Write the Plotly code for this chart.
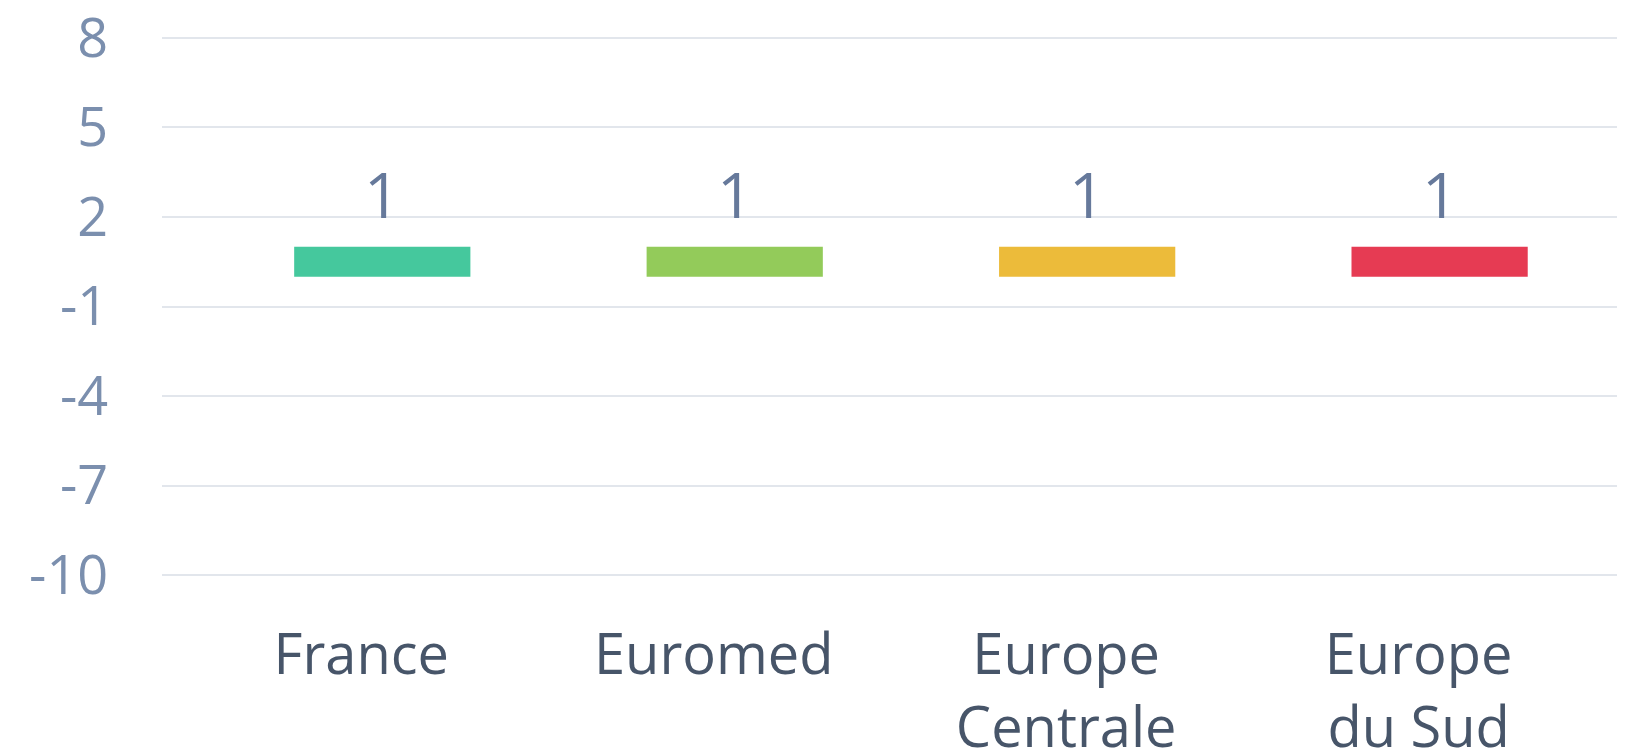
import plotly.graph_objects as go

categories = ["France", "Euromed", "Europe<br>Centrale", "Europe<br>du Sud"]
values = [1, 1, 1, 1]
bar_colors = ["#45C89D", "#93CB5A", "#ECBB3A", "#E63B53"]
y_ticks = [8, 5, 2, -1, -4, -7, -10]

xs = list(range(len(categories)))
FONT = "Open Sans, sans-serif"

fig = go.Figure()
fig.add_trace(go.Bar(
    x=xs, y=values, marker=dict(color=bar_colors, line=dict(width=0)),
    width=0.5, showlegend=False, hoverinfo="skip",
))

for xi, v in zip(xs, values):
    fig.add_annotation(
        x=xi, y=v, text=str(v), showarrow=False, yanchor="bottom",
        yshift=9, font=dict(family=FONT, size=63, color="#66799b"),
    )

# page body has an 8px margin, so the figure is sized to fill the rest of the window
fig.update_layout(
    width=1617, height=745,
    margin=dict(l=154, r=0, t=21, b=169),
    paper_bgcolor="white", plot_bgcolor="white",
)
fig.update_xaxes(
    tickvals=xs, ticktext=categories, range=[-0.625, 3.526],
    showgrid=False, zeroline=False, showline=False, automargin=False,
    tickfont=dict(family=FONT, size=56, color="#475569"),
    ticks="outside", ticklen=22, tickcolor="rgba(0,0,0,0)",
    ticklabelshift=-21, ticklabeloverflow="allow",
)
fig.update_yaxes(
    tickvals=y_ticks, ticktext=[str(t) for t in y_ticks], range=[-10.3, 8.3],
    showgrid=True, gridcolor="#e2e6ec", gridwidth=2, zeroline=False, showline=False,
    automargin=False, ticklabeloverflow="allow",
    tickfont=dict(family=FONT, size=54, color="#7b8fae"),
    ticks="outside", ticklen=42, tickcolor="rgba(0,0,0,0)",
)

fig.write_html("out.html")
